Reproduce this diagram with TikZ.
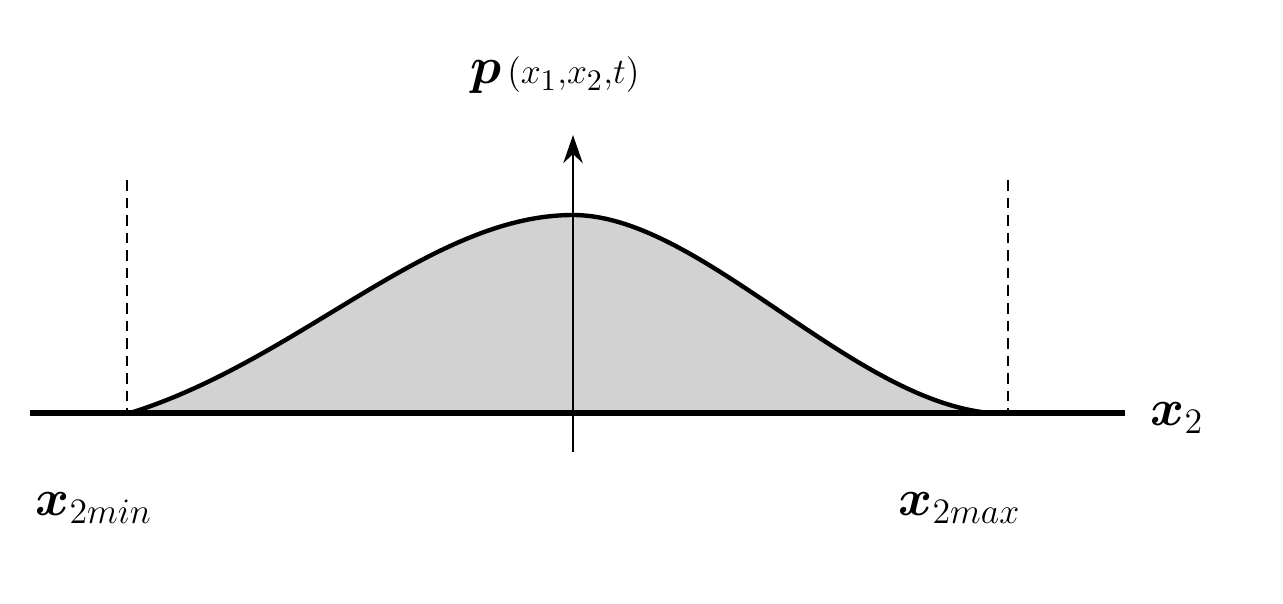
\documentclass[tikz,border=0pt]{standalone}
\usepackage{bm}
\usetikzlibrary{arrows.meta}
\begin{document}
\begin{tikzpicture}[x=0.02cm,y=-0.02cm,
  lbl/.style={inner sep=0pt,font=\LARGE,scale=1.7,transform shape},
  dsh/.style={dash pattern=on 6pt off 4pt,line width=0.8pt}]
\useasboundingbox (0,0) rectangle (1283,603);
\fill[gray!35] (130,413) .. controls (300,360) and (430,215) .. (573,215) .. controls (700,215) and (850,400) .. (990,413) -- cycle;
\draw[line width=2.5pt] (130,413) .. controls (300,360) and (430,215) .. (573,215) .. controls (700,215) and (850,400) .. (990,413);
\draw[dsh] (127,180) -- (127,413);
\draw[dsh] (1008,180) -- (1008,413);
\coordinate (xa) at (30,413); \coordinate (xb) at (1125,413);
\draw[line width=3pt] (xa) -- (xb);
\coordinate (ya) at (573,452); \coordinate (yb) at (573,135);
\draw[line width=1.5pt,-{Stealth[length=16pt,width=11pt]}] (ya) -- (yb);
\node[lbl] (p) at (555,75) {$\bm{p}\mkern2mu{\scriptstyle(x_1,x_2,t)}$};
\node[lbl,anchor=west] (x2) at (1150,418) {$\bm{x}_2$};
\node[lbl,anchor=west] (xmin) at (35,508) {$\bm{x}_{2min}$};
\node[lbl,anchor=west] (xmax) at (898,508) {$\bm{x}_{2max}$};
\end{tikzpicture}
\end{document}
